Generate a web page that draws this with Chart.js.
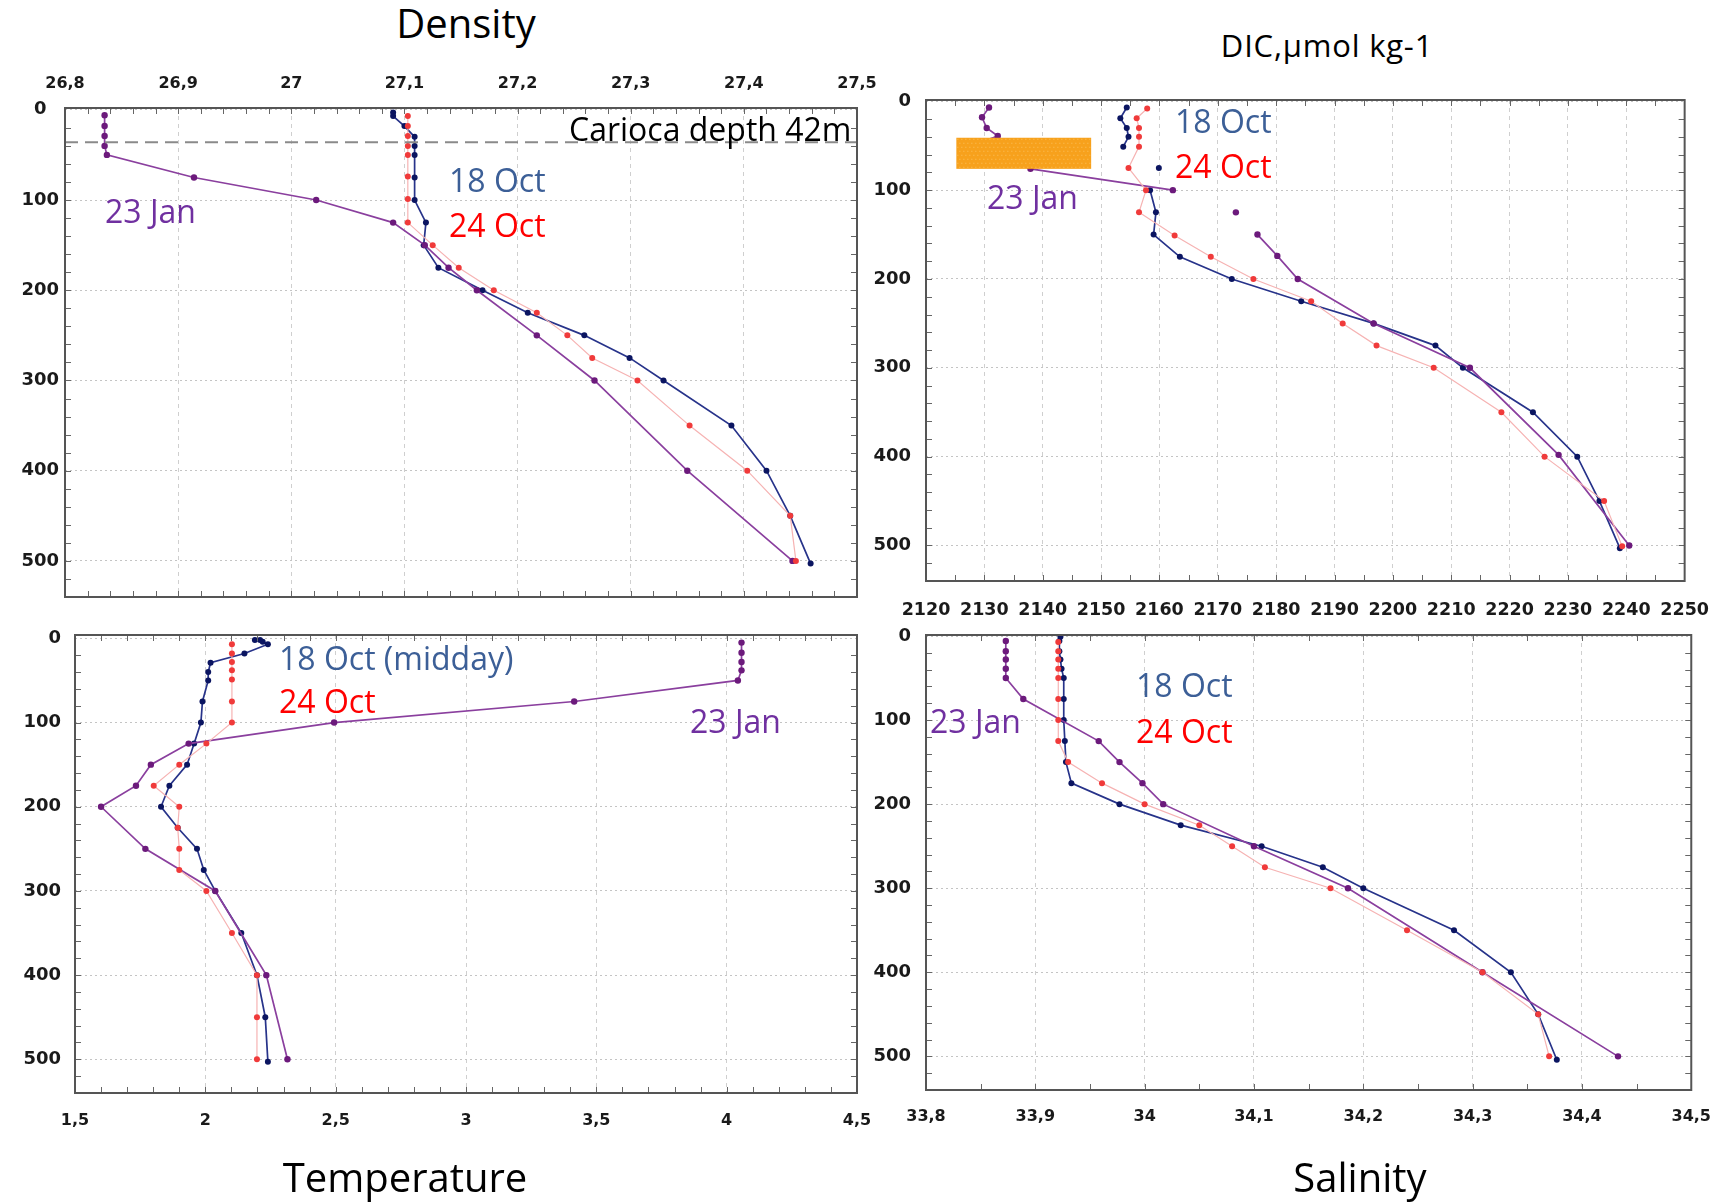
<!DOCTYPE html>
<html>
<head>
<meta charset="utf-8">
<script src="https://cdn.jsdelivr.net/npm/chart.js@4.4.1/dist/chart.umd.min.js"></script>
<style>
  body { margin: 0; background: #fff; width: 1728px; height: 1203px; position: relative; overflow: hidden; font-family: "Open Sans", sans-serif; }
  canvas { position: absolute; }
  .note { position: absolute; white-space: nowrap; line-height: 1; transform: translateY(-50%); font-size: 32px; }
  .title { position: absolute; white-space: nowrap; line-height: 1; transform: translate(-50%, -50%); color: #000; font-size: 40px; }
</style>
</head>
<body>
<canvas id="cDensity" width="900" height="580" style="left:0;top:50px"></canvas>
<canvas id="cDic" width="878" height="570" style="left:850px;top:70px"></canvas>
<canvas id="cTemp" width="900" height="570" style="left:0;top:605px"></canvas>
<canvas id="cSal" width="878" height="570" style="left:850px;top:605px"></canvas>

<div class="title" style="left:466px;top:23px">Density</div>
<div class="title" style="left:1327px;top:45px;font-size:31px;letter-spacing:0.8px">DIC,µmol kg-1</div>
<div class="title" style="left:405px;top:1177px">Temperature</div>
<div class="title" style="left:1360px;top:1177px">Salinity</div>

<div class="note" style="left:569px;top:129px;font-size:32px;color:#000">Carioca depth 42m</div>
<div class="note" style="left:449px;top:180px;color:#3c5f97">18 Oct</div>
<div class="note" style="left:449px;top:225px;color:#ff0000">24 Oct</div>
<div class="note" style="left:105px;top:211px;color:#7030a0">23 Jan</div>

<div class="note" style="left:1175px;top:121px;color:#3c5f97">18 Oct</div>
<div class="note" style="left:1175px;top:166px;color:#ff0000">24 Oct</div>
<div class="note" style="left:987px;top:197px;color:#7030a0">23 Jan</div>

<div class="note" style="left:279px;top:658px;color:#3c5f97">18 Oct (midday)</div>
<div class="note" style="left:279px;top:701px;color:#ff0000">24 Oct</div>
<div class="note" style="left:690px;top:721px;color:#7030a0">23 Jan</div>

<div class="note" style="left:1136px;top:685px;color:#3c5f97">18 Oct</div>
<div class="note" style="left:1136px;top:731px;color:#ff0000">24 Oct</div>
<div class="note" style="left:930px;top:721px;color:#7030a0">23 Jan</div>

<script>
// tick labels
const depthTicks = [0, 100, 200, 300, 400, 500];
const densityTicks = [26.8, 26.9, 27.0, 27.1, 27.2, 27.3, 27.4, 27.5];
const dicTicks = [2120, 2130, 2140, 2150, 2160, 2170, 2180, 2190, 2200, 2210, 2220, 2230, 2240, 2250];
const tempTicks = [1.5, 2, 2.5, 3, 3.5, 4, 4.5];
const salTicks = [33.8, 33.9, 34.0, 34.1, 34.2, 34.3, 34.4, 34.5];

// Density (depth in m, sigma)
const densJanDepth = [6, 18, 29, 40, 50, 75, 100, 125, 150, 175, 200, 250, 300, 400, 500];
const densJan = [26.835, 26.835, 26.835, 26.835, 26.837, 26.914, 27.022, 27.09, 27.118, 27.139, 27.164, 27.217, 27.268, 27.35, 27.443];
const densOct18Depth = [3, 7, 18, 30, 40, 50, 75, 100, 125, 150, 175, 200, 225, 250, 275, 300, 350, 400, 450, 503];
const densOct18 = [27.09, 27.09, 27.1, 27.109, 27.109, 27.109, 27.109, 27.109, 27.119, 27.117, 27.13, 27.169, 27.209, 27.259, 27.299, 27.329, 27.389, 27.42, 27.441, 27.459];
const densOct24Depth = [7, 18, 29, 40, 50, 74, 99, 125, 150, 175, 200, 225, 250, 275, 300, 350, 400, 450, 500];
const densOct24 = [27.103, 27.103, 27.103, 27.103, 27.103, 27.103, 27.103, 27.103, 27.125, 27.148, 27.179, 27.217, 27.244, 27.266, 27.306, 27.352, 27.403, 27.441, 27.446];
const cariocaDepth = 36;

// DIC (null = gap in the profile)
const dicJanDepth = [7, 18, 30, 39, 49, 76, 100, null, 125, null, 150, 174, 200, 250, 300, 398, 500];
const dicJan = [2130.8, 2129.6, 2130.4, 2132.3, 2128.1, 2137.9, 2162.3, null, 2173.1, null, 2176.8, 2180.2, 2183.7, 2196.7, 2213.2, 2228.4, 2240.5];
const dicOct18Depth = [7, 19, 30, 40, 51, null, 75, null, 100, 125, 150, 175, 200, 225, 250, 275, 300, 350, 400, 450, 503];
const dicOct18 = [2154.4, 2153.3, 2154.4, 2154.7, 2153.8, null, 2159.9, null, 2158.4, 2159.4, 2159, 2163.5, 2172.4, 2184.3, 2196.7, 2207.3, 2212, 2224, 2231.6, 2235.4, 2238.9];
const dicOct24Depth = [8, 19, 30, 40, 51, 75, 100, 125, 151, 175, 200, 225, 250, 275, 300, 350, 400, 450, 501];
const dicOct24 = [2157.9, 2156.1, 2156.5, 2156.5, 2156.5, 2154.7, 2157.7, 2156.5, 2162.6, 2168.8, 2176.1, 2186, 2191.4, 2197.2, 2207, 2218.6, 2226, 2236.2, 2239.3];
const dicBoxX = [2125.2, 2148.3];
const dicBoxDepth = [41, 76];

// Temperature
const tempJanDepth = [5, 17, 28, 38, 50, 75, 100, 125, 150, 175, 200, 250, 300, 400, 500];
const tempJan = [4.057, 4.057, 4.057, 4.057, 4.043, 3.415, 2.494, 1.936, 1.791, 1.734, 1.6, 1.77, 2.038, 2.234, 2.315];
const tempOct18Depth = [2, 2, 4, 7, 18, 29, 40, 50, 75, 100, 125, 150, 175, 200, 225, 250, 275, 300, 350, 400, 450, 503];
const tempOct18 = [2.19, 2.21, 2.22, 2.24, 2.15, 2.02, 2.011, 2.011, 1.989, 1.983, 1.957, 1.93, 1.862, 1.83, 1.894, 1.968, 1.994, 2.038, 2.138, 2.198, 2.23, 2.24];
const tempOct24Depth = [7, 18, 28, 38, 49, 75, 100, 125, 150, 175, 200, 225, 250, 275, 300, 350, 400, 450, 500];
const tempOct24 = [2.102, 2.102, 2.102, 2.102, 2.102, 2.102, 2.102, 2.004, 1.9, 1.802, 1.9, 1.894, 1.9, 1.9, 2.004, 2.102, 2.198, 2.198, 2.198];

// Salinity
const salJanDepth = [6, 18, 28, 39, 50, 75, 125, 150, 175, 200, 250, 300, 400, 500];
const salJan = [33.873, 33.873, 33.873, 33.873, 33.873, 33.889, 33.958, 33.977, 33.998, 34.017, 34.1, 34.186, 34.309, 34.433];
const salOct18Depth = [1, 6, 18, 28, 39, 50, 75, 100, 125, 150, 175, 200, 225, 250, 275, 300, 350, 400, 450, 504];
const salOct18 = [33.923, 33.922, 33.922, 33.923, 33.924, 33.926, 33.926, 33.926, 33.927, 33.928, 33.933, 33.977, 34.033, 34.107, 34.163, 34.2, 34.283, 34.335, 34.36, 34.377];
const salOct24Depth = [7, 18, 28, 39, 50, 75, 100, 125, 150, 175, 200, 225, 250, 275, 300, 350, 400, 450, 500];
const salOct24 = [33.921, 33.921, 33.921, 33.921, 33.921, 33.921, 33.921, 33.921, 33.93, 33.961, 34.0, 34.05, 34.08, 34.11, 34.17, 34.24, 34.309, 34.36, 34.37];

const styleJan = { line: "#8a3f9e", dot: "#6c1a7c", w: 1.7, r: 3.2 };
const styleOct18 = { line: "#27338a", dot: "#0b1561", w: 1.7, r: 3 };
const styleOct24 = { line: "#f6b3b3", dot: "#f03a3a", w: 1.2, r: 3 };

function profile(vals, depths) {
  return vals.map((v, i) => ({ x: v, y: depths[i] }));
}

function comma(v) {
  return String(v).replace(".", ",");
}

// box, inward minor ticks, extra marks
const frame = {
  id: "frame",
  afterDraw(chart, args, o) {
    const { ctx, chartArea: a, scales } = chart;
    const xs = scales.x, ys = scales.y;
    ctx.save();
    ctx.strokeStyle = "#666";
    ctx.lineWidth = 1;
    const nx = Math.round((xs.max - xs.min) / o.xMinor);
    for (let i = 1; i < nx; i++) {
      const px = Math.round(xs.getPixelForValue(xs.min + i * o.xMinor)) + 0.5;
      ctx.beginPath();
      ctx.moveTo(px, a.top); ctx.lineTo(px, a.top + 6);
      ctx.moveTo(px, a.bottom); ctx.lineTo(px, a.bottom - 6);
      ctx.stroke();
    }
    for (let d = 20; d < ys.max; d += 20) {
      const py = Math.round(ys.getPixelForValue(d)) + 0.5;
      ctx.beginPath();
      ctx.moveTo(a.left, py); ctx.lineTo(a.left + 6, py);
      ctx.moveTo(a.right, py); ctx.lineTo(a.right - 6, py);
      ctx.stroke();
    }
    ctx.strokeStyle = "#555";
    ctx.lineWidth = 2;
    ctx.strokeRect(a.left, a.top, a.right - a.left, a.bottom - a.top);
    ctx.restore();
  },
  afterDatasetsDraw(chart, args, o) {
    if (o.extra) o.extra(chart);
  }
};

function makeChart(id, p) {
  return new Chart(document.getElementById(id), {
    type: "scatter",
    data: {
      datasets: p.series.map(s => ({
        data: profile(s.vals, s.depth),
        showLine: true,
        spanGaps: false,
        borderColor: s.style.line,
        borderWidth: s.style.w,
        backgroundColor: s.style.dot,
        pointBackgroundColor: s.style.dot,
        pointBorderColor: s.style.dot,
        pointBorderWidth: 0,
        pointRadius: s.style.r,
        pointHoverRadius: s.style.r
      }))
    },
    options: {
      responsive: false,
      animation: false,
      events: [],
      layout: { padding: p.pad },
      plugins: {
        legend: { display: false },
        tooltip: { enabled: false },
        frame: { xMinor: p.xMinor, extra: p.extra }
      },
      scales: {
        x: {
          type: "linear",
          position: p.xPos,
          min: p.xTicks[0],
          max: p.xTicks[p.xTicks.length - 1],
          afterBuildTicks: s => { s.ticks = p.xTicks.map(v => ({ value: v })); },
          afterFit: s => { s.height = p.xH; },
          grid: { color: "#cfcfcf", lineWidth: 1, drawTicks: false },
          border: { display: false, dash: [4, 4] },
          ticks: {
            padding: p.xPad,
            color: "#1a1a1a",
            font: { family: "DejaVu Sans", weight: "bold", size: p.xFont },
            maxRotation: 0,
            autoSkip: false,
            callback: v => comma(v)
          }
        },
        y: {
          type: "linear",
          reverse: true,
          min: p.yMin,
          max: 540,
          afterBuildTicks: s => { s.ticks = depthTicks.map(v => ({ value: v })); },
          afterFit: s => { s.width = p.yW; },
          grid: { color: "#c4c4c4", lineWidth: 1, drawTicks: false },
          border: { display: false, dash: [2, 3] },
          ticks: {
            padding: p.yPad,
            crossAlign: p.yAlign,
            color: "#1a1a1a",
            font: { family: "DejaVu Sans", weight: "bold", size: 18 },
            autoSkip: false
          }
        }
      }
    },
    plugins: [frame]
  });
}

makeChart("cDensity", {
  series: [
    { vals: densOct24, depth: densOct24Depth, style: styleOct24 },
    { vals: densJan, depth: densJanDepth, style: styleJan },
    { vals: densOct18, depth: densOct18Depth, style: styleOct18 }
  ],
  xTicks: densityTicks, xMinor: 0.02, xPos: "top", xH: 58, xPad: 15, xFont: 16,
  yW: 65, yMin: -2, yPad: 6, yAlign: "center",
  pad: { top: 0, left: 0, right: 43, bottom: 33 },
  extra: chart => {
    const { ctx, chartArea: a, scales } = chart;
    const py = scales.y.getPixelForValue(cariocaDepth);
    ctx.save();
    ctx.strokeStyle = "#8a8a8a";
    ctx.lineWidth = 2;
    ctx.setLineDash([13, 7]);
    ctx.beginPath();
    ctx.moveTo(a.left, py); ctx.lineTo(a.right, py);
    ctx.stroke();
    ctx.restore();
  }
});

makeChart("cDic", {
  series: [
    { vals: dicOct24, depth: dicOct24Depth, style: styleOct24 },
    { vals: dicJan, depth: dicJanDepth, style: styleJan },
    { vals: dicOct18, depth: dicOct18Depth, style: styleOct18 }
  ],
  xTicks: dicTicks, xMinor: 5, xPos: "bottom", xH: 59, xPad: 19, xFont: 17.5,
  yW: 76, yMin: -1.5, yPad: 15, yAlign: "near",
  pad: { top: 30, left: 0, right: 31, bottom: 0 },
  extra: chart => {
    const { ctx, scales } = chart;
    const x1 = scales.x.getPixelForValue(dicBoxX[0]), x2 = scales.x.getPixelForValue(dicBoxX[1]);
    const y1 = scales.y.getPixelForValue(dicBoxDepth[0]), y2 = scales.y.getPixelForValue(dicBoxDepth[1]);
    ctx.save();
    ctx.fillStyle = "#f7a11c";
    ctx.fillRect(x1, y1, x2 - x1, y2 - y1);
    ctx.fillStyle = "rgba(255,220,150,0.55)";
    for (let yy = y1 + 1; yy < y2; yy += 4) {
      for (let xx = x1 + ((yy - y1) % 8 < 4 ? 1 : 3); xx < x2; xx += 4) ctx.fillRect(xx, yy, 1, 1);
    }
    ctx.restore();
  }
});

makeChart("cTemp", {
  series: [
    { vals: tempOct24, depth: tempOct24Depth, style: styleOct24 },
    { vals: tempJan, depth: tempJanDepth, style: styleJan },
    { vals: tempOct18, depth: tempOct18Depth, style: styleOct18 }
  ],
  xTicks: tempTicks, xMinor: 0.1, xPos: "bottom", xH: 82, xPad: 18, xFont: 16,
  yW: 75, yMin: -4, yPad: 14, yAlign: "near",
  pad: { top: 30, left: 0, right: 43, bottom: 0 }
});

makeChart("cSal", {
  series: [
    { vals: salOct24, depth: salOct24Depth, style: styleOct24 },
    { vals: salJan, depth: salJanDepth, style: styleJan },
    { vals: salOct18, depth: salOct18Depth, style: styleOct18 }
  ],
  xTicks: salTicks, xMinor: 0.05, xPos: "bottom", xH: 85, xPad: 17, xFont: 16,
  yW: 76, yMin: -1.2, yPad: 15, yAlign: "near",
  pad: { top: 30, left: 0, right: 27, bottom: 0 }
});
</script>
</body>
</html>
